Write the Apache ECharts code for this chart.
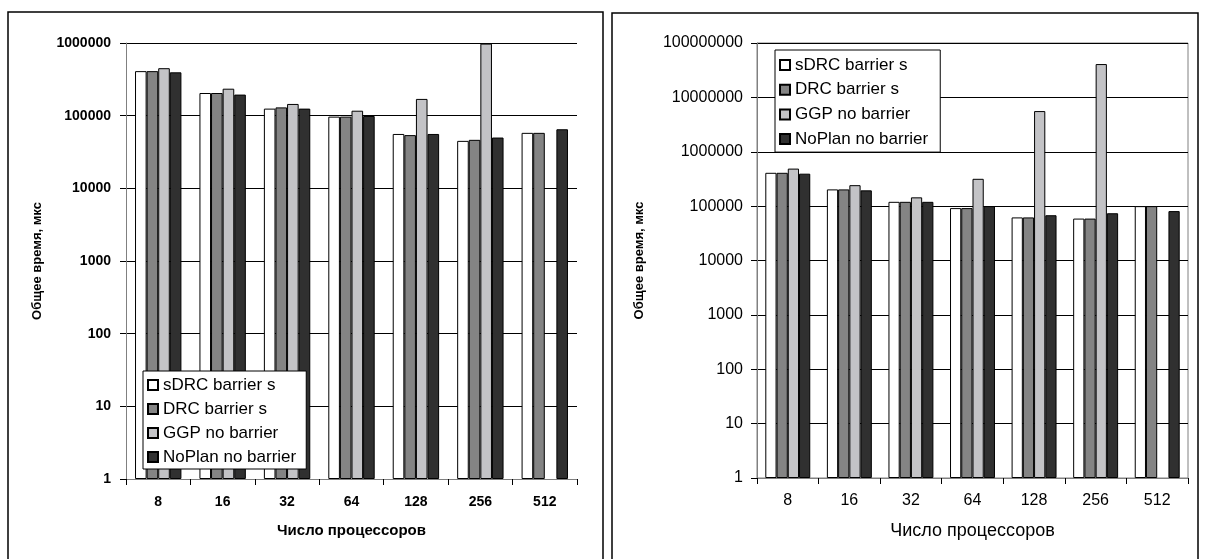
<!DOCTYPE html>
<html>
<head>
<meta charset="utf-8">
<script src="https://cdn.jsdelivr.net/npm/echarts@6/dist/echarts.min.js"></script>
<style>
html,body{margin:0;padding:0;background:#fff;}
#c{width:1207px;height:559px;}
</style>
</head>
<body>
<div id="c"></div>
<script>
const categories = ['8', '16', '32', '64', '128', '256', '512'];
const seriesNames = ['sDRC barrier s', 'DRC barrier s', 'GGP no barrier', 'NoPlan no barrier'];
const seriesColors = ['#ffffff', '#848484', '#c3c3c6', '#303030'];

// left chart values
const leftSDRC   = [410000, 205000, 125000, 97000, 56000, 45000, 58000];
const leftDRC    = [410000, 205000, 130000, 97000, 54000, 46500, 58000];
const leftGGP    = [450000, 235000, 145000, 117000, 170000, 980000, null];
const leftNoPlan = [395000, 195000, 125000, 99000, 56000, 50000, 65000];

// right chart values
const rightSDRC   = [410000, 203000, 120000, 92000, 62000, 59000, 100000];
const rightDRC    = [410000, 203000, 120000, 92000, 62000, 59000, 100000];
const rightGGP    = [490000, 243000, 145000, 318000, 5600000, 41000000, null];
const rightNoPlan = [395000, 195000, 120000, 100000, 68000, 74000, 81000];

const leftTicks = ['1', '10', '100', '1000', '10000', '100000', '1000000'];
const rightTicks = ['1', '10', '100', '1000', '10000', '100000', '1000000', '10000000', '100000000'];

const xTitle = 'Число процессоров';
const yTitle = 'Общее время, мкс';

const FONT = "'Liberation Sans', Arial, sans-serif";

function tickFmt(list) {
  return function (v) {
    const e = Math.round(Math.log10(v));
    return list[e] !== undefined ? list[e] : '';
  };
}

const leftData = [leftSDRC, leftDRC, leftGGP, leftNoPlan];
const rightData = [rightSDRC, rightDRC, rightGGP, rightNoPlan];

const series = [];
leftData.forEach((d, i) => {
  series.push({
    type: 'bar', name: seriesNames[i], xAxisIndex: 0, yAxisIndex: 0,
    data: d, barGap: '0%', barCategoryGap: '28%',
    itemStyle: { color: seriesColors[i], borderColor: '#000', borderWidth: 1 },
    emphasis: { disabled: true }
  });
});
rightData.forEach((d, i) => {
  series.push({
    type: 'bar', name: seriesNames[i], xAxisIndex: 1, yAxisIndex: 1,
    data: d, barGap: '0%', barCategoryGap: '27%',
    itemStyle: { color: seriesColors[i], borderColor: '#000', borderWidth: 1 },
    emphasis: { disabled: true }
  });
});

const legendBase = {
  orient: 'vertical',
  data: seriesNames,
  icon: 'rect',
  itemWidth: 10,
  itemHeight: 10,
  backgroundColor: '#fff',
  borderColor: '#000',
  borderWidth: 1,
  borderRadius: 0,
  selectedMode: false,
  textStyle: { fontFamily: FONT, fontSize: 17, color: '#000', lineHeight: 20 }
};

const option = {
  animation: false,
  backgroundColor: '#fff',
  graphic: [
    { type: 'rect', shape: { x: 8, y: 12, width: 595, height: 570 }, style: { fill: 'none', stroke: '#000', lineWidth: 1.5 }, z: 100 },
    { type: 'rect', shape: { x: 612, y: 13, width: 586, height: 570 }, style: { fill: 'none', stroke: '#000', lineWidth: 1.5 }, z: 100 }
  ],
  legend: [
    Object.assign({}, legendBase, { left: 143, top: 371, itemGap: 4, padding: [4, 10, 2, 4] }),
    Object.assign({}, legendBase, { left: 775, top: 50, itemGap: 4.7, padding: [5, 12, 3, 4] })
  ],
  grid: [
    { left: 126, top: 43, right: 630, bottom: 80, containLabel: false },
    { left: 757, top: 43, right: 19, bottom: 81, containLabel: false, show: true, borderColor: '#808080', borderWidth: 1 }
  ],
  xAxis: [
    {
      type: 'category', gridIndex: 0, data: categories,
      axisLine: { lineStyle: { color: '#808080', width: 1 } },
      axisTick: { show: true, length: 6, lineStyle: { color: '#000' } },
      axisLabel: { fontFamily: FONT, fontSize: 14, fontWeight: 'bold', color: '#000', margin: 16 },
      name: xTitle, nameLocation: 'middle', nameGap: 44,
      nameTextStyle: { fontFamily: FONT, fontSize: 15, fontWeight: 'bold', color: '#000' }
    },
    {
      type: 'category', gridIndex: 1, data: categories,
      axisLine: { lineStyle: { color: '#808080', width: 1 } },
      axisTick: { show: true, length: 6, lineStyle: { color: '#000' } },
      axisLabel: { fontFamily: FONT, fontSize: 16, color: '#000', margin: 15 },
      name: xTitle, nameLocation: 'middle', nameGap: 44,
      nameTextStyle: { fontFamily: FONT, fontSize: 18, color: '#000' }
    }
  ],
  yAxis: [
    {
      type: 'log', logBase: 10, gridIndex: 0, min: 1, max: 1000000, interval: 1,
      axisLine: { show: true, lineStyle: { color: '#808080', width: 1 } },
      axisTick: { show: true, length: 6, lineStyle: { color: '#000' } },
      splitLine: { show: true, lineStyle: { color: '#000', width: 1 } },
      axisLabel: { fontFamily: FONT, fontSize: 14, fontWeight: 'bold', color: '#000', margin: 15, formatter: tickFmt(leftTicks) },
      name: yTitle, nameLocation: 'middle', nameGap: 82,
      nameTextStyle: { fontFamily: FONT, fontSize: 13, fontWeight: 'bold', color: '#000' }
    },
    {
      type: 'log', logBase: 10, gridIndex: 1, min: 1, max: 100000000, interval: 1,
      axisLine: { show: true, lineStyle: { color: '#808080', width: 1 } },
      axisTick: { show: true, length: 6, lineStyle: { color: '#000' } },
      splitLine: { show: true, lineStyle: { color: '#000', width: 1 } },
      axisLabel: { fontFamily: FONT, fontSize: 16, color: '#000', margin: 14, formatter: tickFmt(rightTicks) },
      name: yTitle, nameLocation: 'middle', nameGap: 111,
      nameTextStyle: { fontFamily: FONT, fontSize: 13, fontWeight: 'bold', color: '#000' }
    }
  ],
  series: series
};

const chart = echarts.init(document.getElementById('c'), null, { renderer: 'canvas' });
chart.setOption(option);
</script>
</body>
</html>
